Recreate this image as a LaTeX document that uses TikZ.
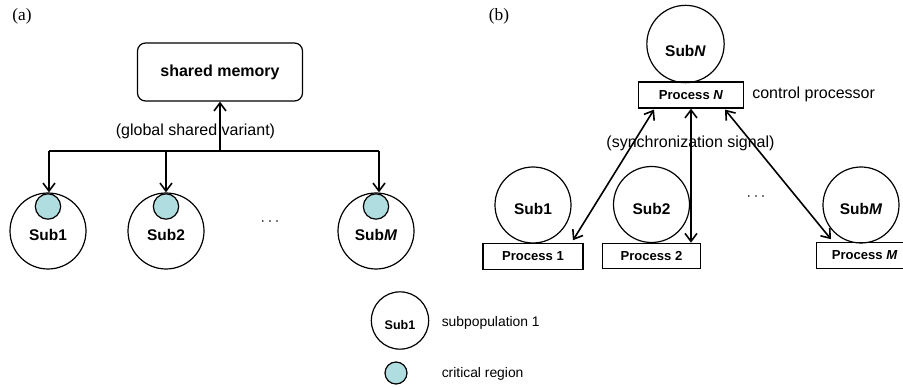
\documentclass[tikz,border=0pt]{standalone}
\usepackage{fontspec}
\setmainfont{Liberation Sans}
\newfontfamily\serifpanel{Liberation Serif}
\usetikzlibrary{arrows.meta,calc}
\definecolor{crit}{RGB}{176,221,224}
\tikzset{
  arr/.style={line width=1.2pt,-{Straight Barb[length=6pt,width=9pt,line width=1.2pt]}},
  darr/.style={line width=1.2pt,{Straight Barb[length=6pt,width=9pt,line width=1.2pt]}-{Straight Barb[length=6pt,width=9pt,line width=1.2pt]}},
  bigc/.style={circle,draw,line width=0.9pt,minimum size=57pt,inner sep=0pt},
  legc/.style={circle,draw,line width=0.9pt,minimum size=43pt,inner sep=0pt},
  smallc/.style={circle,draw,line width=0.9pt,fill=crit,minimum size=19pt,inner sep=0pt},
  sublab/.style={font=\fontsize{11.6pt}{13pt}\selectfont\bfseries,inner sep=0pt},
  proc/.style={draw,line width=0.9pt,font=\fontsize{9.8pt}{11pt}\selectfont\bfseries,inner sep=0pt},
  txt/.style={font=\fontsize{12pt}{14pt}\selectfont,inner sep=0pt},
  panel/.style={font=\fontsize{13pt}{15pt}\serifpanel,inner sep=0pt},
}
\begin{document}
\begin{tikzpicture}[x=0.75pt,y=-0.75pt]
\clip (0,0) rectangle (903,388);
\fill[white] (0,0) rectangle (903,388);
% ---------- panel (a)
\node[panel] (pa) at (22,16) {(a)};
\node[draw,rounded corners=6pt,line width=0.9pt,minimum width=123.75pt,minimum height=43.5pt,
      font=\fontsize{12pt}{14pt}\selectfont\bfseries] (mem) at (220,72) {shared memory};
\coordinate (hl) at (49,151);
\coordinate (hm) at (220,151);
\coordinate (hr) at (379,151);
\node[txt] (gsv) at (195.5,131.5) {(global shared variant)};
\node[bigc] (a1) at (48,231) {};
\node[bigc] (a2) at (166,231) {};
\node[bigc] (aM) at (376,231) {};
\node[smallc] (s1) at (48,206.5) {};
\node[smallc] (s2) at (166,206.5) {};
\node[smallc] (sM) at (376,206.5) {};
\node[sublab] at (48,235) {Sub1};
\node[sublab] at (166,235) {Sub2};
\node[sublab] at (376,235) {Sub\textit{M}};
\node[txt] (dotsa) at (270,222) {$\cdots$};
\draw[line width=1.2pt] (hl) -- (hr);
\draw[arr] (hm) -- (mem.south);
\draw[arr] (hl) -- (hl |- a1.north);
\draw[arr] (a2.north |- hl) -- (a2.north);
\draw[arr] (hr) -- (hr |- aM.north);
% ---------- panel (b)
\node[panel] (pb) at (499,16) {(b)};
\node[bigc,minimum size=58pt] (bN) at (685.5,44) {};
\node[sublab] at (685.5,50.5) {Sub\textit{N}};
\node[proc,minimum width=78.75pt,minimum height=19.5pt] (pN) at (691,95) {Process \textit{N}};
\node[txt,anchor=west] (cp) at (752,94) {control processor};
\node[txt] (sync) at (690.5,143.5) {(synchronization signal)};
\node[bigc] (b1) at (533,205) {};
\node[bigc] (b2) at (651.5,204.5) {};
\node[bigc] (bM) at (861,205) {};
\node[sublab] at (533,209) {Sub1};
\node[sublab] at (651.5,209) {Sub2};
\node[sublab] at (861,209) {Sub\textit{M}};
\node[proc,minimum width=75pt,minimum height=19pt] (p1) at (533,256.5) {Process 1};
\node[proc,minimum width=74pt,minimum height=19pt] (p2) at (651.5,256) {Process 2};
\node[proc,minimum width=75pt,minimum height=19pt,anchor=west] (pM) at (816,255.5) {\hspace*{-3pt}Process \textit{M}};
\node[txt] (dotsb) at (756,197) {$\cdots$};
\draw[darr] ($(pN.south)+(-37,1)$) -- ($(p1.north)+(40,-3)$);
\draw[darr] (pN.south) -- (pN.south |- p2.north);
\draw[darr] ($(pN.south)+(34,1)$) -- ($(pM.north west)+(15,-3)$);
% ---------- legend
\node[legc] (lc) at (400,320.5) {};
\node[sublab,font=\fontsize{9.4pt}{11pt}\selectfont\bfseries] at (400,325) {Sub1};
\node[txt,anchor=west,font=\fontsize{10.4pt}{12pt}\selectfont] (l1) at (441.5,322.5) {subpopulation 1};
\node[smallc,minimum size=16.5pt] (lsc) at (396,373) {};
\node[txt,anchor=west,font=\fontsize{10.4pt}{12pt}\selectfont] (l2) at (441.5,374) {critical region};
\end{tikzpicture}
\end{document}
